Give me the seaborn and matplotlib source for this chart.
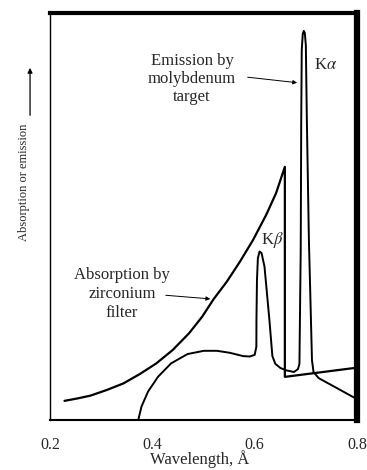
import numpy as np
import pandas as pd
import matplotlib
matplotlib.use("Agg")
import matplotlib.pyplot as plt
import seaborn as sns

# --- Data (wavelength in Angstrom, relative intensity) ---
emission_wl = [0.3725, 0.3788, 0.3917, 0.4110, 0.4365, 0.4687, 0.5006, 0.5263, 0.5519,
               0.5775, 0.5904, 0.6000, 0.6033, 0.6035, 0.6045, 0.6063, 0.6096, 0.6135,
               0.6192, 0.6288, 0.6346, 0.6404, 0.6500, 0.6615, 0.6769, 0.6846, 0.6875,
               0.688, 0.690, 0.691, 0.692, 0.694, 0.696, 0.698, 0.700, 0.702, 0.706,
               0.710, 0.712, 0.715, 0.725, 0.796]
emission_val = [0.0, 3.3, 7.0, 10.6, 13.9, 16.2, 17.0, 17.0, 16.5,
                15.7, 15.6, 16.0, 18.0, 24.6, 34.4, 39.8, 41.4, 41.0,
                37.7, 24.6, 15.7, 13.8, 12.8, 12.2, 11.8, 12.5, 13.8,
                19.7, 41.8, 73.7, 90.9, 94.8, 95.6, 95.1, 92.1, 73.7, 44.2,
                24.6, 14.7, 11.8, 10.3, 5.4]

absorption_wl = [0.2283, 0.2538, 0.2794, 0.3115, 0.3437, 0.3756, 0.4077, 0.4398,
                 0.4717, 0.4975, 0.5198, 0.5456, 0.5712, 0.5967, 0.6225, 0.6417,
                 0.6590, 0.6590, 0.7962]
absorption_val = [4.7, 5.3, 6.0, 7.4, 9.0, 11.3, 13.9, 17.2,
                  21.3, 25.4, 29.7, 34.0, 38.9, 44.2, 50.4, 55.7,
                  62.2, 10.6, 12.8]

x_ticks = [0.2, 0.4, 0.6, 0.8]
x_tick_labels = ["0.2", "0.4", "0.6", "0.8"]

emission = pd.DataFrame({"wl": emission_wl, "val": emission_val})
absorption = pd.DataFrame({"wl": absorption_wl, "val": absorption_val})

sns.set_style("white")
plt.rcParams["font.family"] = ["Liberation Serif", "DejaVu Serif"]
plt.rcParams["mathtext.fontset"] = "stix"

fig = plt.figure(figsize=(3.67, 4.70), dpi=100)
ax = fig.add_axes([50 / 367, 50 / 470, 307 / 367, 407 / 470])

sns.lineplot(data=emission, x="wl", y="val", sort=False, estimator=None,
             color="black", lw=1.4, ax=ax)
sns.lineplot(data=absorption, x="wl", y="val", sort=False, estimator=None,
             color="black", lw=1.6, ax=ax)

ax.set_xlim(0.2, 0.8)
ax.set_ylim(0, 100)
ax.set_xticks(x_ticks)
ax.set_xticklabels(x_tick_labels, fontsize=11.5)
ax.set_yticks([])
ax.tick_params(axis="x", direction="in", length=8, width=1, pad=12, color="black")

for side, lw in [("left", 1.0), ("bottom", 1.5), ("top", 3.0), ("right", 4.5)]:
    ax.spines[side].set_visible(True)
    ax.spines[side].set_linewidth(lw)
    ax.spines[side].set_color("black")

ax.set_xlabel("Wavelength, Å", fontsize=12, va="center")
ax.xaxis.set_label_coords(0.489, -0.096)
ax.set_ylabel("Absorption or emission", fontsize=9)
ax.yaxis.set_label_coords(-0.065, 0.585)
ax.annotate("", xy=(-0.065, 0.872), xytext=(-0.065, 0.742), xycoords="axes fraction",
            arrowprops=dict(arrowstyle="-|>", lw=0.9, color="black", mutation_scale=7),
            annotation_clip=False)

# curve labels
ax.text(0.4625, 0.838, "Emission by\nmolybdenum\ntarget", transform=ax.transAxes,
        ha="center", va="center", fontsize=12, linespacing=1.2)
ax.annotate("", xy=(0.814, 0.828), xytext=(0.635, 0.843), xycoords="axes fraction",
            arrowprops=dict(arrowstyle="-|>", lw=0.7, color="black", mutation_scale=6))
ax.text(0.896, 0.872, "K$\\alpha$", transform=ax.transAxes, ha="center", va="center",
        fontsize=12)
ax.text(0.723, 0.442, "K$\\beta$", transform=ax.transAxes, ha="center", va="center",
        fontsize=12)
ax.text(0.2345, 0.31, "Absorption by\nzirconium\nfilter", transform=ax.transAxes,
        ha="center", va="center", fontsize=12, linespacing=1.25)
ax.annotate("", xy=(0.531, 0.297), xytext=(0.368, 0.307), xycoords="axes fraction",
            arrowprops=dict(arrowstyle="-|>", lw=0.7, color="black", mutation_scale=6))

fig.savefig("out.png", dpi=100)
